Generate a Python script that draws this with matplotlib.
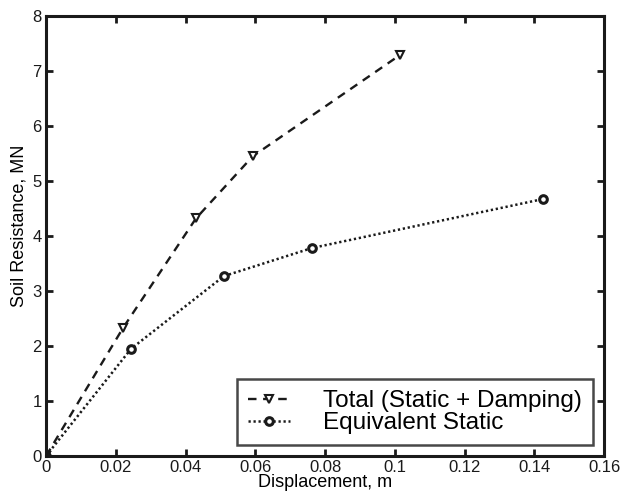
import matplotlib
matplotlib.use("Agg")
import matplotlib.pyplot as plt

plt.rcParams['font.family'] = ['Liberation Sans', 'DejaVu Sans']

# Total (static + damping) resistance
total_disp = [0.0, 0.0221, 0.0430, 0.0593, 0.1015]
total_res = [0.0, 2.33, 4.32, 5.45, 7.29]

# Equivalent static resistance
static_disp = [0.0, 0.0244, 0.0510, 0.0762, 0.1424]
static_res = [0.0, 1.95, 3.27, 3.78, 4.67]

xticks = [0, 0.02, 0.04, 0.06, 0.08, 0.1, 0.12, 0.14, 0.16]
xticklabels = ['0', '0.02', '0.04', '0.06', '0.08', '0.1', '0.12', '0.14', '0.16']

fig = plt.figure(figsize=(6.33, 4.99), dpi=100)
ax = fig.add_axes([0.0727, 0.0862, 0.8815, 0.8818])

ax.plot(total_disp, total_res, color='#1a1a1a', linestyle=(0, (3.6, 2.8)), linewidth=1.7,
        marker='v', markersize=6, markerfacecolor='white', markeredgewidth=1.5,
        markeredgecolor='#1a1a1a', label='Total (Static + Damping)')
ax.plot(static_disp, static_res, color='#1a1a1a', linestyle=(0, (0.9, 1.1)), linewidth=1.8,
        marker='o', markersize=5.5, markerfacecolor='white', markeredgewidth=2.2,
        markeredgecolor='#1a1a1a', label='Equivalent Static')

ax.set_xlim(0, 0.16)
ax.set_ylim(0, 8)
ax.set_xticks(xticks)
ax.set_xticklabels(xticklabels)
ax.set_yticks(range(9))

ax.tick_params(direction='in', length=5, width=2, top=True, right=True,
               labelsize=12, pad=3, colors='#1a1a1a')
for s in ax.spines.values():
    s.set_linewidth(2.2)
    s.set_color('#1a1a1a')

ax.set_xlabel('Displacement, m', fontsize=13, labelpad=-1)
ax.set_ylabel('Soil Resistance, MN', fontsize=13)
ax.yaxis.set_label_coords(-0.034, 0.523)

leg = ax.legend(loc='lower right', fontsize=17.5, frameon=True, fancybox=False,
                handlelength=1.75, handletextpad=1.35, borderpad=0.45,
                labelspacing=0.0, borderaxespad=0,
                bbox_to_anchor=(0.980, 0.025))
leg.get_frame().set_edgecolor('#1a1a1a')
leg.get_frame().set_linewidth(1.8)

fig.savefig('out.png', dpi=100)
